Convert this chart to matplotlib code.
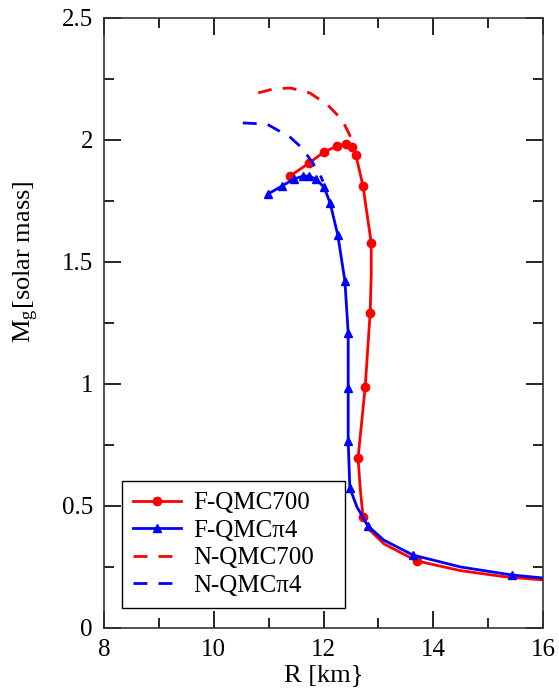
import matplotlib.pyplot as plt
from matplotlib.ticker import MultipleLocator

plt.rcParams['font.family'] = ['Liberation Serif', 'DejaVu Serif']
plt.rcParams['mathtext.fontset'] = 'stix'

# F-QMC700 (line points and marker points)
f700_r = [11.39, 11.74, 12.01, 12.25, 12.41, 12.52, 12.59, 12.72, 12.87, 12.87, 12.85, 12.76,
          12.63, 12.67, 12.72, 12.85, 13.1, 13.70, 14.5, 15.3, 16.0]
f700_m = [1.852, 1.906, 1.951, 1.975, 1.984, 1.971, 1.939, 1.811, 1.578, 1.45, 1.291, 0.988,
          0.697, 0.57, 0.455, 0.40, 0.345, 0.275, 0.235, 0.21, 0.197]
f700_mk_r = [11.39, 11.74, 12.01, 12.25, 12.41, 12.52, 12.59, 12.72, 12.87, 12.85, 12.76, 12.63, 12.72, 13.70]
f700_mk_m = [1.852, 1.906, 1.951, 1.975, 1.984, 1.971, 1.939, 1.811, 1.578, 1.291, 0.988, 0.697, 0.455, 0.275]

# F-QMCpi4
fpi4_r = [10.99, 11.24, 11.46, 11.63, 11.74, 11.86, 12.01, 12.12, 12.26, 12.39, 12.45, 12.45,
          12.45, 12.48, 12.61, 12.81, 13.1, 13.63, 14.5, 15.44, 16.0]
fpi4_m = [1.779, 1.811, 1.84, 1.852, 1.852, 1.84, 1.807, 1.742, 1.611, 1.422, 1.209, 0.984,
          0.766, 0.574, 0.496, 0.418, 0.36, 0.299, 0.25, 0.217, 0.205]
fpi4_mk_r = [10.99, 11.24, 11.46, 11.63, 11.74, 11.86, 12.01, 12.12, 12.26, 12.39, 12.45, 12.45,
             12.45, 12.48, 12.81, 13.63, 15.44]
fpi4_mk_m = [1.779, 1.811, 1.84, 1.852, 1.852, 1.84, 1.807, 1.742, 1.611, 1.422, 1.209, 0.984,
             0.766, 0.574, 0.418, 0.299, 0.217]

# N-QMC700 (dashed)
n700_r = [10.81, 11.1, 11.4, 11.75, 12.08, 12.34, 12.45, 12.54]
n700_m = [2.193, 2.210, 2.213, 2.193, 2.143, 2.082, 2.033, 1.988]

# N-QMCpi4 (dashed)
npi4_r = [10.53, 10.97, 11.39, 11.61, 11.79, 11.94, 11.99]
npi4_m = [2.07, 2.065, 2.012, 1.967, 1.91, 1.857, 1.83]

fig = plt.figure(figsize=(5.59, 6.93), dpi=100)
ax = fig.add_axes([104/559, 65/693, 439/559, 610/693])

ax.plot(f700_r, f700_m, color='red', lw=2)
ax.plot(f700_mk_r, f700_mk_m, 'o', color='red', ms=6)
ax.plot(fpi4_r, fpi4_m, color='blue', lw=2)
ax.plot(fpi4_mk_r, fpi4_mk_m, '^', color='blue', ms=6)
ax.plot(n700_r, n700_m, '--', color='red', lw=2, dashes=(5, 4))
ax.plot(npi4_r, npi4_m, '--', color='blue', lw=2, dashes=(5, 4))

# legend proxies
h1, = ax.plot([], [], '-o', color='red', lw=2, ms=6)
h2, = ax.plot([], [], '-^', color='blue', lw=2, ms=6)
h3, = ax.plot([], [], '--', color='red', lw=2, dashes=(5, 4))
h4, = ax.plot([], [], '--', color='blue', lw=2, dashes=(5, 4))
leg = ax.legend([h1, h2, h3, h4], ['F-QMC700', 'F-QMC\u03c04', 'N-QMC700', 'N-QMC\u03c04'],
                loc='lower left', bbox_to_anchor=(18/439, 20/610, 223/439, 127/610),
                mode='expand', fontsize=18,
                fancybox=False, edgecolor='black', framealpha=1, handlelength=1.9,
                labelspacing=0.2, borderpad=0.45, handletextpad=0.5, borderaxespad=0)
leg.get_frame().set_linewidth(1.0)

ax.set_xlim(8, 16)
ax.set_ylim(0, 2.5)
ax.set_xticks([8, 10, 12, 14, 16])
ax.set_yticks([0, 0.5, 1, 1.5, 2, 2.5])
ax.set_yticklabels(['0', '0.5', '1', '1.5', '2', '2.5'])
ax.xaxis.set_minor_locator(MultipleLocator(1))
ax.yaxis.set_minor_locator(MultipleLocator(0.25))
ax.tick_params(which='both', direction='in', top=True, right=True, labelsize=18, width=1.2)
ax.tick_params(which='major', length=12, pad=8)
ax.tick_params(which='minor', length=7)
for s in ax.spines.values():
    s.set_linewidth(1.2)
    s.set_color('#333333')

ax.set_xlabel('R [km}', fontsize=19, labelpad=2)
ax.set_ylabel('M$_\\mathregular{g}$[solar mass]', fontsize=19)
ax.yaxis.set_label_coords(-0.144, 0.60)

fig.savefig('out.png', dpi=100)
